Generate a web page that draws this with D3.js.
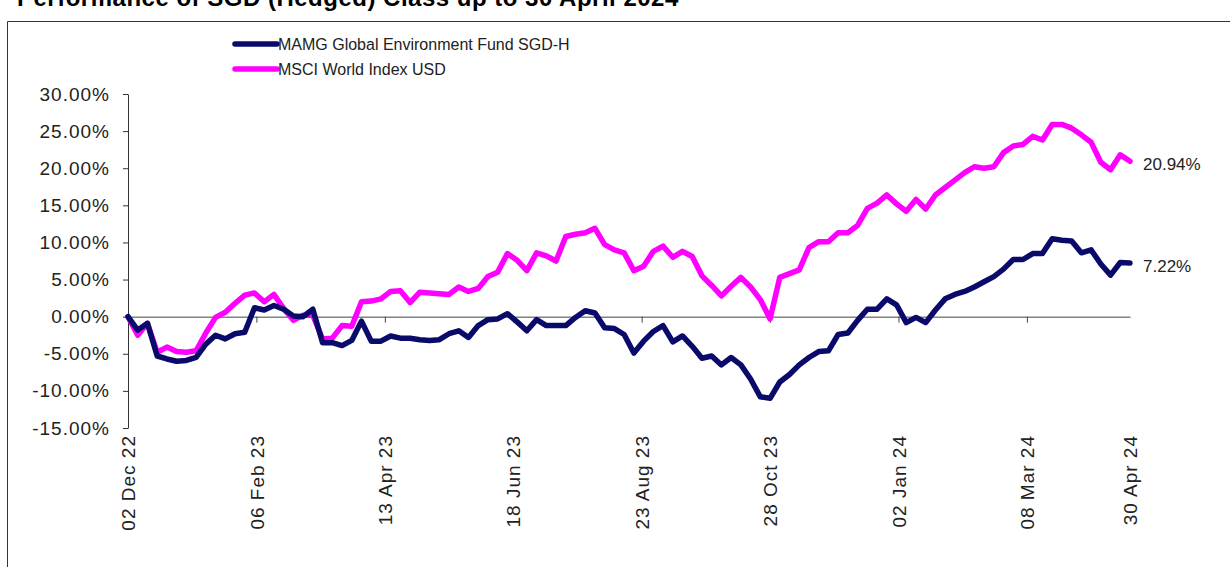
<!DOCTYPE html>
<html lang="en">
<head>
    <meta charset="UTF-8">
    <title>Performance of SGD (Hedged) Class</title>
    <script src="https://d3js.org/d3.v7.min.js"></script>
    <style>
        body {
            margin: 0;
            background-color: #ffffff;
            font-family: "Liberation Sans", Arial, sans-serif;
        }
        svg text {
            fill: #222;
        }
    </style>
</head>
<body>
    <svg id="chart" width="1230" height="567"></svg>
    <script>
        // Values, one every 5 calendar days from 02 Dec 22 to 30 Apr 24 (%)
        const startDate = '2022-12-02';
        const stepDays = 5;

        const fundValues = [
            0, -1.8, -0.9, -5.3, -5.7, -6.0, -5.9, -5.5, -3.7, -2.5,
            -3.0, -2.3, -2.1, 1.2, 0.9, 1.5, 1.0, 0.1, 0.0, 1.0,
            -3.5, -3.5, -3.9, -3.2, -0.6, -3.3, -3.3, -2.6, -2.9, -2.9,
            -3.1, -3.2, -3.1, -2.3, -1.9, -2.8, -1.2, -0.4, -0.3, 0.4,
            -0.7, -1.9, -0.4, -1.2, -1.2, -1.2, -0.1, 0.8, 0.5, -1.5,
            -1.6, -2.4, -4.9, -3.3, -2.0, -1.2, -3.4, -2.6, -4.0, -5.6,
            -5.3, -6.5, -5.5, -6.5, -8.4, -10.8, -11.0, -8.8, -7.8, -6.5,
            -5.5, -4.7, -4.6, -2.4, -2.2, -0.5, 1.0, 1.0, 2.4, 1.6,
            -0.8, -0.1, -0.8, 0.9, 2.4, 3.0, 3.4, 4.0, 4.7, 5.4,
            6.4, 7.7, 7.7, 8.5, 8.5, 10.5, 10.3, 10.2, 8.6, 9.0,
            7.1, 5.6, 7.3, 7.22
        ];

        const indexValues = [
            0, -2.5, -0.9, -4.8, -4.1, -4.7, -4.8, -4.6, -2.2, -0.1,
            0.6, 1.8, 2.9, 3.2, 2.0, 3.0, 1.1, -0.5, 0.2, 0.2,
            -3.0, -2.9, -1.2, -1.3, 2.0, 2.1, 2.4, 3.4, 3.5, 1.9,
            3.3, 3.2, 3.1, 3.0, 4.0, 3.4, 3.8, 5.4, 6.0, 8.5,
            7.6, 6.2, 8.6, 8.2, 7.5, 10.8, 11.1, 11.3, 11.9, 9.7,
            9.0, 8.6, 6.2, 6.8, 8.8, 9.5, 8.0, 8.8, 8.1, 5.5,
            4.2, 2.8, 4.1, 5.3, 4.0, 2.3, -0.3, 5.3, 5.8, 6.3,
            9.3, 10.1, 10.1, 11.3, 11.3, 12.3, 14.6, 15.3, 16.4, 15.2,
            14.2, 15.8, 14.5, 16.4, 17.4, 18.4, 19.4, 20.2, 20.0, 20.2,
            22.1, 23.0, 23.2, 24.3, 23.8, 25.9, 25.9, 25.4, 24.5, 23.5,
            20.8, 19.8, 21.8, 20.94
        ];

        const seriesNames = ['MAMG Global Environment Fund SGD-H', 'MSCI World Index USD'];
        const seriesColors = ['#0a0a6b', '#ff00ff'];

        const tickDates = ['2022-12-02', '2023-02-06', '2023-04-13', '2023-06-18',
                           '2023-08-23', '2023-10-28', '2024-01-02', '2024-03-08'];
        const endDate = '2024-04-30';
        const yTicks = [-15, -10, -5, 0, 5, 10, 15, 20, 25, 30];

        const parse = d3.timeParse('%Y-%m-%d');
        const start = parse(startDate);
        const toPoints = vals => vals.map((v, i) => ({ date: d3.timeDay.offset(start, i * stepDays), value: v }));
        const series = [toPoints(fundValues), toPoints(indexValues)];

        const svg = d3.select('#chart');
        const margin = { left: 128, right: 100, top: 94, bottom: 139 };
        const W = 1230, H = 567;

        const x = d3.scaleTime()
            .domain([start, parse(endDate)])
            .range([margin.left, W - margin.right]);
        const y = d3.scaleLinear()
            .domain([-15, 30])
            .range([H - margin.bottom, margin.top]);

        // title (cut off at the top like the source image)
        svg.append('text')
            .attr('x', 17)
            .attr('y', 6)
            .style('font-size', '24px')
            .style('font-weight', 'bold')
            .style('letter-spacing', '0.5px')
            .style('fill', '#000')
            .text('Performance of SGD (Hedged) Class up to 30 April 2024');

        // frame
        svg.append('path')
            .attr('d', `M7.5,${H} V21.5 H${W}`)
            .attr('fill', 'none')
            .attr('stroke', '#333')
            .attr('stroke-width', 1);

        // y axis
        const yAxis = svg.append('g')
            .attr('transform', `translate(${margin.left},0)`)
            .call(d3.axisLeft(y).tickValues(yTicks).tickSize(5).tickSizeOuter(0).tickPadding(13)
                .tickFormat(d => d.toFixed(2) + '%'));
        yAxis.select('.domain').attr('stroke', '#333');
        yAxis.selectAll('.tick line').attr('stroke', '#333');
        yAxis.selectAll('text')
            .attr('fill', '#222')
            .style('font-size', '19px')
            .style('letter-spacing', '1px')
            .style('font-family', '"Liberation Sans", Arial, sans-serif');

        // zero line with ticks
        const zeroAxis = svg.append('g')
            .attr('transform', `translate(0,${y(0)})`)
            .call(d3.axisBottom(x).tickValues(tickDates.map(parse)).tickSize(6).tickSizeOuter(0)
                .tickFormat(''));
        zeroAxis.select('.domain').attr('stroke', '#444');
        zeroAxis.selectAll('.tick line').attr('stroke', '#444');

        // date labels at the bottom
        const fmt = d3.timeFormat('%d %b %y');
        const labelAxis = svg.append('g')
            .attr('transform', `translate(0,${H - margin.bottom})`)
            .call(d3.axisBottom(x).tickValues(tickDates.concat([endDate]).map(parse)).tickSize(0)
                .tickFormat(fmt));
        labelAxis.select('.domain').remove();
        labelAxis.selectAll('text')
            .attr('transform', 'rotate(-90)')
            .attr('x', -7)
            .attr('y', 0)
            .attr('dy', '0.35em')
            .attr('fill', '#222')
            .style('text-anchor', 'end')
            .style('font-size', '19px')
            .style('letter-spacing', '1px')
            .style('font-family', '"Liberation Sans", Arial, sans-serif');

        // lines
        const line = d3.line()
            .x(d => x(d.date))
            .y(d => y(d.value));

        // draw index first so the fund line sits on top where they cross
        [1, 0].forEach(k => {
            svg.append('path')
                .datum(series[k])
                .attr('fill', 'none')
                .attr('stroke', seriesColors[k])
                .attr('stroke-width', 5.5)
                .attr('stroke-linejoin', 'round')
                .attr('stroke-linecap', 'round')
                .attr('d', line);
        });

        // end labels
        series.forEach(s => {
            const last = s[s.length - 1];
            svg.append('text')
                .attr('x', x(last.date) + 13)
                .attr('y', y(last.value) + 3)
                .attr('dy', '0.35em')
                .style('font-size', '17px')
                .text(last.value.toFixed(2) + '%');
        });

        // legend
        const legend = svg.append('g').attr('transform', 'translate(235,44)');
        seriesNames.forEach((name, i) => {
            const g = legend.append('g').attr('transform', `translate(0,${i * 25})`);
            g.append('line')
                .attr('x1', 0).attr('x2', 42)
                .attr('y1', 0).attr('y2', 0)
                .attr('stroke', seriesColors[i])
                .attr('stroke-width', 5.5)
                .attr('stroke-linecap', 'round');
            g.append('text')
                .attr('x', 43)
                .attr('y', 0)
                .attr('dy', '0.35em')
                .style('font-size', '16px')
                .text(name);
        });
    </script>
</body>
</html>
